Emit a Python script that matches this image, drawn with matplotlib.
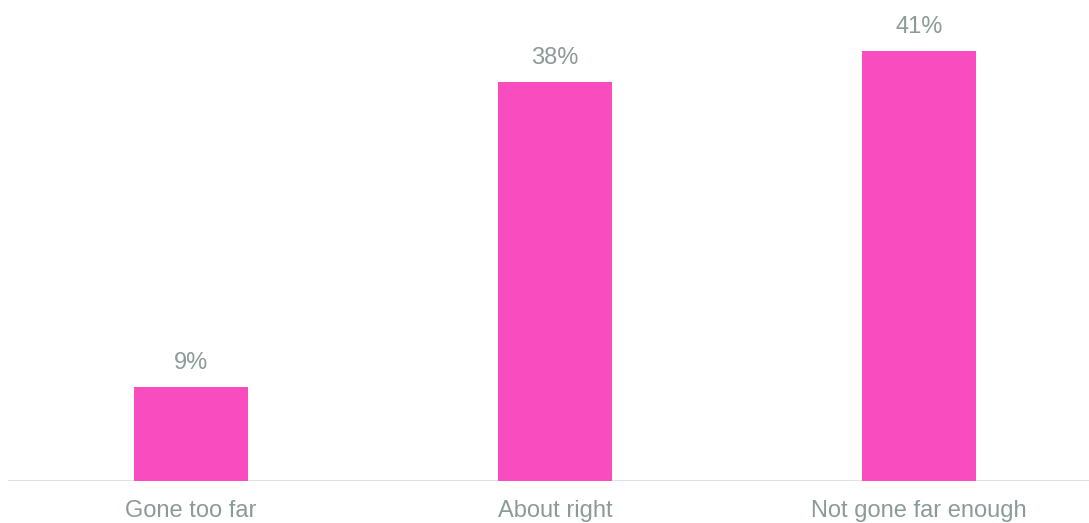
import matplotlib.pyplot as plt

categories = ["Gone too far", "About right", "Not gone far enough"]
values = [9, 38, 41]

bar_color = "#F84CBF"
text_color = "#8C9A98"

plt.rcParams['font.family'] = ['Liberation Sans', 'DejaVu Sans']

fig = plt.figure(figsize=(10.89, 5.23), dpi=100)
ax = fig.add_axes([0, 42 / 523, 1, 481 / 523])

x = range(len(categories))
bars = ax.bar(x, values, width=0.314, color=bar_color, zorder=2)

# 364 px per category, first centre at 191 px
xmin = -191 / 364
ax.set_xlim(xmin, xmin + 1089 / 364)
ax.set_ylim(0, 481 / 10.5)

for rect, v in zip(bars, values):
    ax.annotate(f"{v}%", (rect.get_x() + rect.get_width() / 2, v),
                xytext=(0, 9), textcoords="offset points",
                ha="center", va="bottom", fontsize=17, color=text_color)

ax.axhline(0, xmin=(-0.5 - xmin) / (1089 / 364), xmax=1, color="#E0E0E0", lw=1.5, zorder=1)

for spine in ax.spines.values():
    spine.set_visible(False)
ax.set_yticks([])
ax.set_xticks(list(x))
ax.set_xticklabels(categories, fontsize=17, color=text_color)
ax.tick_params(axis="x", length=0, pad=14)

fig.savefig("out.png", dpi=100)
